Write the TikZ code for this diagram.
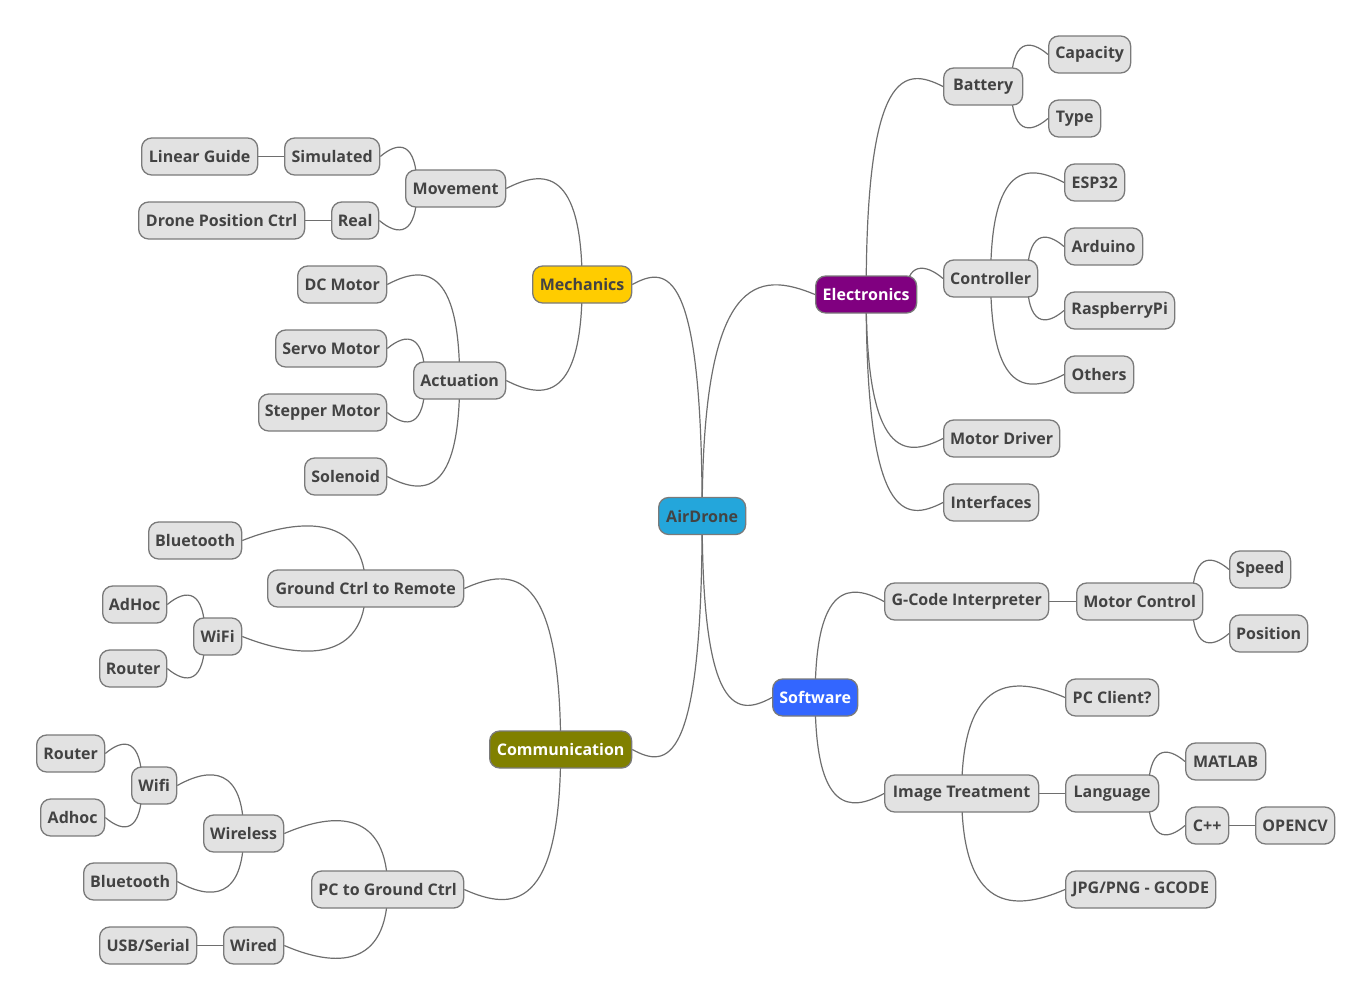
\documentclass[tikz,border=0pt]{standalone}
\usepackage{fontspec}
\setmainfont{Open Sans}
\usetikzlibrary{calc}
\pgfdeclarelayer{bg}
\pgfsetlayers{bg,main}
\definecolor{boxfill}{HTML}{E2E2E2}
\definecolor{bordc}{HTML}{7A7A7A}
\definecolor{linec}{HTML}{6E6E6E}
\definecolor{txt}{HTML}{434343}
\definecolor{cair}{HTML}{24A6DB}
\definecolor{cmech}{HTML}{FFCC00}
\definecolor{celec}{HTML}{800080}
\definecolor{csoft}{HTML}{3366FF}
\definecolor{ccomm}{HTML}{808000}
\tikzset{
  box/.style={draw=bordc, line width=1.3pt, fill=boxfill, rounded corners=10pt,
    minimum height=37pt, inner sep=0pt, text=txt, anchor=west,
    font=\fontsize{16}{19}\selectfont\bfseries},
  conn/.style={draw=linec, line width=1.2pt},
}
% #1 start point (x used), #2 parent node, #3 end point
\newcommand\cn[3]{%
  \draw[conn] let \p1=(#1), \p2=(#2.center), \p3=(#3),
    \n1={12pt+0.1*abs(\x3-\x1)} in
    (\x1,\y2) .. controls (\x1,{\y3+\n1*sign(\y3-\y2)})
      and ({0.5*(\x1+\x3)},{\y3+\n1*sign(\y3-\y2)}) .. (\p3);}
\begin{document}
\begin{tikzpicture}[x=1pt,y=-1pt]
\useasboundingbox (0,0) rectangle (1372,1002);

% root and main branches
\node[box, fill=cair, minimum width=87pt] (air) at (658,516) {AirDrone};
\node[box, fill=cmech, minimum width=99pt] (mech) at (532,284.5) {Mechanics};
\node[box, fill=celec, text=white, minimum width=101pt] (elec) at (815,294.5) {Electronics};
\node[box, fill=csoft, text=white, minimum width=85pt] (soft) at (772,697.5) {Software};
\node[box, fill=ccomm, text=white, minimum width=142pt] (comm) at (489,749.5) {Communication};

% Mechanics subtree
\node[box, minimum width=100pt] (move) at (405,188.5) {Movement};
\node[box, minimum width=95pt] (simu) at (284,156.5) {Simulated};
\node[box, minimum width=116pt] (lguide) at (141,156.5) {Linear Guide};
\node[box, minimum width=47pt] (real) at (331,220.5) {Real};
\node[box, minimum width=166pt] (dpc) at (138,220.5) {Drone Position Ctrl};
\node[box, minimum width=92pt] (act) at (413,380.5) {Actuation};
\node[box, minimum width=89pt] (dcm) at (297,284.5) {DC Motor};
\node[box, minimum width=111pt] (servo) at (275,348.5) {Servo Motor};
\node[box, minimum width=128pt] (stepper) at (258,412.5) {Stepper Motor};
\node[box, minimum width=82pt] (sol) at (304,476.5) {Solenoid};

% Communication subtree
\node[box, minimum width=196pt] (gcr) at (267,588.5) {Ground Ctrl to Remote};
\node[box, minimum width=93pt] (bt1) at (148,540.5) {Bluetooth};
\node[box, minimum width=48pt] (wifi1) at (193,636.5) {WiFi};
\node[box, minimum width=64pt] (adhoc1) at (102,604.5) {AdHoc};
\node[box, minimum width=67pt] (router1) at (99,668.5) {Router};
\node[box, minimum width=152pt] (pcgc) at (311,889.5) {PC to Ground Ctrl};
\node[box, minimum width=80pt] (wless) at (203,833.5) {Wireless};
\node[box, minimum width=45pt] (wifi2) at (131,785.5) {Wifi};
\node[box, minimum width=68pt] (router2) at (36,753.5) {Router};
\node[box, minimum width=64pt] (adhoc2) at (40,817.5) {Adhoc};
\node[box, minimum width=93pt] (bt2) at (83,881.5) {Bluetooth};
\node[box, minimum width=60pt] (wired) at (223,945.5) {Wired};
\node[box, minimum width=97pt] (usb) at (99,945.5) {USB/Serial};

% Electronics subtree
\node[box, minimum width=79pt] (bat) at (943,86.5) {Battery};
\node[box, minimum width=82pt] (cap) at (1048,54.5) {Capacity};
\node[box, minimum width=52pt] (type) at (1048,118.5) {Type};
\node[box, minimum width=94pt] (ctrl) at (943,278.5) {Controller};
\node[box, minimum width=60pt] (esp) at (1064,182.5) {ESP32};
\node[box, minimum width=78pt] (ard) at (1064,246.5) {Arduino};
\node[box, minimum width=110pt] (rpi) at (1064,310.5) {RaspberryPi};
\node[box, minimum width=69pt] (oth) at (1064,374.5) {Others};
\node[box, minimum width=116pt] (mdrv) at (943,438.5) {Motor Driver};
\node[box, minimum width=95pt] (intf) at (943,502.5) {Interfaces};

% Software subtree
\node[box, minimum width=164pt] (gcode) at (884,601.5) {G-Code Interpreter};
\node[box, minimum width=126pt] (mctrl) at (1076,601.5) {Motor Control};
\node[box, minimum width=61pt] (speed) at (1229,569.5) {Speed};
\node[box, minimum width=78pt] (pos) at (1229,633.5) {Position};
\node[box, minimum width=154pt] (imgt) at (884,793.5) {Image Treatment};
\node[box, minimum width=93pt] (pcc) at (1065,697.5) {PC Client?};
\node[box, minimum width=93pt] (lang) at (1065,793.5) {Language};
\node[box, minimum width=80pt] (matlab) at (1185,761.5) {MATLAB};
\node[box, minimum width=43pt] (cpp) at (1185,825.5) {C++};
\node[box, minimum width=79pt] (opencv) at (1255,825.5) {OPENCV};
\node[box, minimum width=150pt] (jpg) at (1065,889.5) {JPG/PNG - GCODE};

\begin{pgfonlayer}{bg}
% root
\cn{air.center}{air}{mech.east}
\cn{air.center}{air}{comm.east}
\cn{air.center}{air}{elec.west}
\cn{air.center}{air}{soft.west}
% mechanics
\cn{mech.center}{mech}{move.east}
\cn{mech.center}{mech}{act.east}
\cn{[xshift=12pt]move.west}{move}{simu.east}
\cn{[xshift=12pt]move.west}{move}{real.east}
\draw[conn] (simu.west) -- (lguide.east);
\draw[conn] (real.west) -- (dpc.east);
\cn{act.center}{act}{dcm.east}
\cn{[xshift=12pt]act.west}{act}{servo.east}
\cn{[xshift=12pt]act.west}{act}{stepper.east}
\cn{act.center}{act}{sol.east}
% communication
\cn{comm.center}{comm}{gcr.east}
\cn{comm.center}{comm}{pcgc.east}
\cn{gcr.center}{gcr}{bt1.east}
\cn{gcr.center}{gcr}{wifi1.east}
\cn{[xshift=12pt]wifi1.west}{wifi1}{adhoc1.east}
\cn{[xshift=12pt]wifi1.west}{wifi1}{router1.east}
\cn{pcgc.center}{pcgc}{wless.east}
\cn{pcgc.center}{pcgc}{wired.east}
\cn{wless.center}{wless}{wifi2.east}
\cn{wless.center}{wless}{bt2.east}
\cn{[xshift=11pt]wifi2.west}{wifi2}{router2.east}
\cn{[xshift=11pt]wifi2.west}{wifi2}{adhoc2.east}
\draw[conn] (wired.west) -- (usb.east);
% electronics
\cn{elec.center}{elec}{bat.west}
\cn{[xshift=-11pt]elec.east}{elec}{ctrl.west}
\cn{elec.center}{elec}{mdrv.west}
\cn{elec.center}{elec}{intf.west}
\cn{[xshift=-12pt]bat.east}{bat}{cap.west}
\cn{[xshift=-12pt]bat.east}{bat}{type.west}
\cn{ctrl.center}{ctrl}{esp.west}
\cn{[xshift=-11pt]ctrl.east}{ctrl}{ard.west}
\cn{[xshift=-11pt]ctrl.east}{ctrl}{rpi.west}
\cn{ctrl.center}{ctrl}{oth.west}
% software
\cn{soft.center}{soft}{gcode.west}
\cn{soft.center}{soft}{imgt.west}
\draw[conn] (gcode.east) -- (mctrl.west);
\cn{[xshift=-11pt]mctrl.east}{mctrl}{speed.west}
\cn{[xshift=-11pt]mctrl.east}{mctrl}{pos.west}
\cn{imgt.center}{imgt}{pcc.west}
\draw[conn] (imgt.east) -- (lang.west);
\cn{imgt.center}{imgt}{jpg.west}
\cn{[xshift=-11pt]lang.east}{lang}{matlab.west}
\cn{[xshift=-11pt]lang.east}{lang}{cpp.west}
\draw[conn] (cpp.east) -- (opencv.west);
\end{pgfonlayer}
\end{tikzpicture}
\end{document}
